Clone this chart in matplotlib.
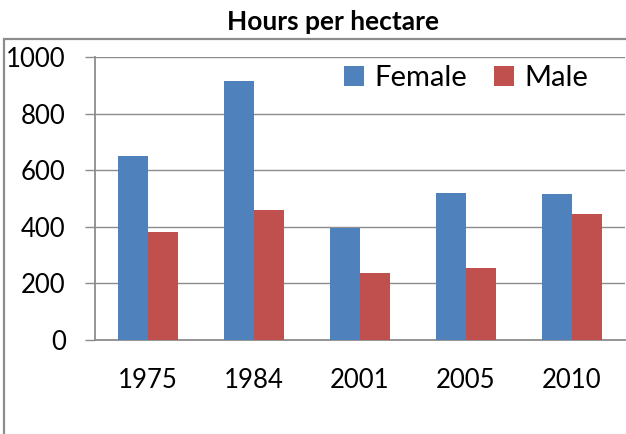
import matplotlib.pyplot as plt
import numpy as np
from matplotlib.patches import Rectangle

years = ['1975', '1984', '2001', '2005', '2010']
female = [650, 915, 397, 518, 517]
male = [380, 461, 236, 254, 444]

plt.rcParams['font.family'] = ['Lato', 'DejaVu Sans']

fig = plt.figure(figsize=(6.26, 4.34), dpi=100)
ax = fig.add_axes([95 / 626, 1 - 340 / 434, 530 / 626, 283 / 434])

x = np.arange(len(years))
w = 0.283
ax.bar(x - w / 2, female, w, color='#4F81BD', label='Female', zorder=3)
ax.bar(x + w / 2, male, w, color='#C0504D', label='Male', zorder=3)

ax.set_xlim(-0.5, len(years) - 0.5)
ax.set_ylim(0, 1000)
ax.set_yticks(range(0, 1001, 200))
ax.set_xticks(x)
ax.set_xticklabels(years)
ax.yaxis.grid(True, color='#8c8c8c', linewidth=1.0, zorder=0)
ax.set_axisbelow(True)

for s in ['top', 'right']:
    ax.spines[s].set_visible(False)
for s in ['left', 'bottom']:
    ax.spines[s].set_color('#8c8c8c')
    ax.spines[s].set_linewidth(1.3)

ax.tick_params(axis='y', length=7, width=1.0, color='#8c8c8c', pad=14, labelsize=18.5)
ax.tick_params(axis='x', length=0, pad=20, labelsize=18.5)

ax.legend(loc='center', bbox_to_anchor=(0.70, 0.926), ncol=2, frameon=False,
          fontsize=21, handlelength=0.7, handleheight=0.7, handletextpad=0.35,
          columnspacing=0.9)

fig.text(333 / 626, 1 - 22 / 434, 'Hours per hectare', ha='center', va='center',
         fontsize=19, fontweight='bold')

# outer chart frame (cut off at right and bottom)
fig.patches.append(Rectangle((4 / 626, -0.1), 1.2, (434 - 39) / 434 + 0.1,
                             transform=fig.transFigure, fill=False,
                             edgecolor='#8c8c8c', linewidth=1.6))

plt.savefig('out.png', dpi=100)
